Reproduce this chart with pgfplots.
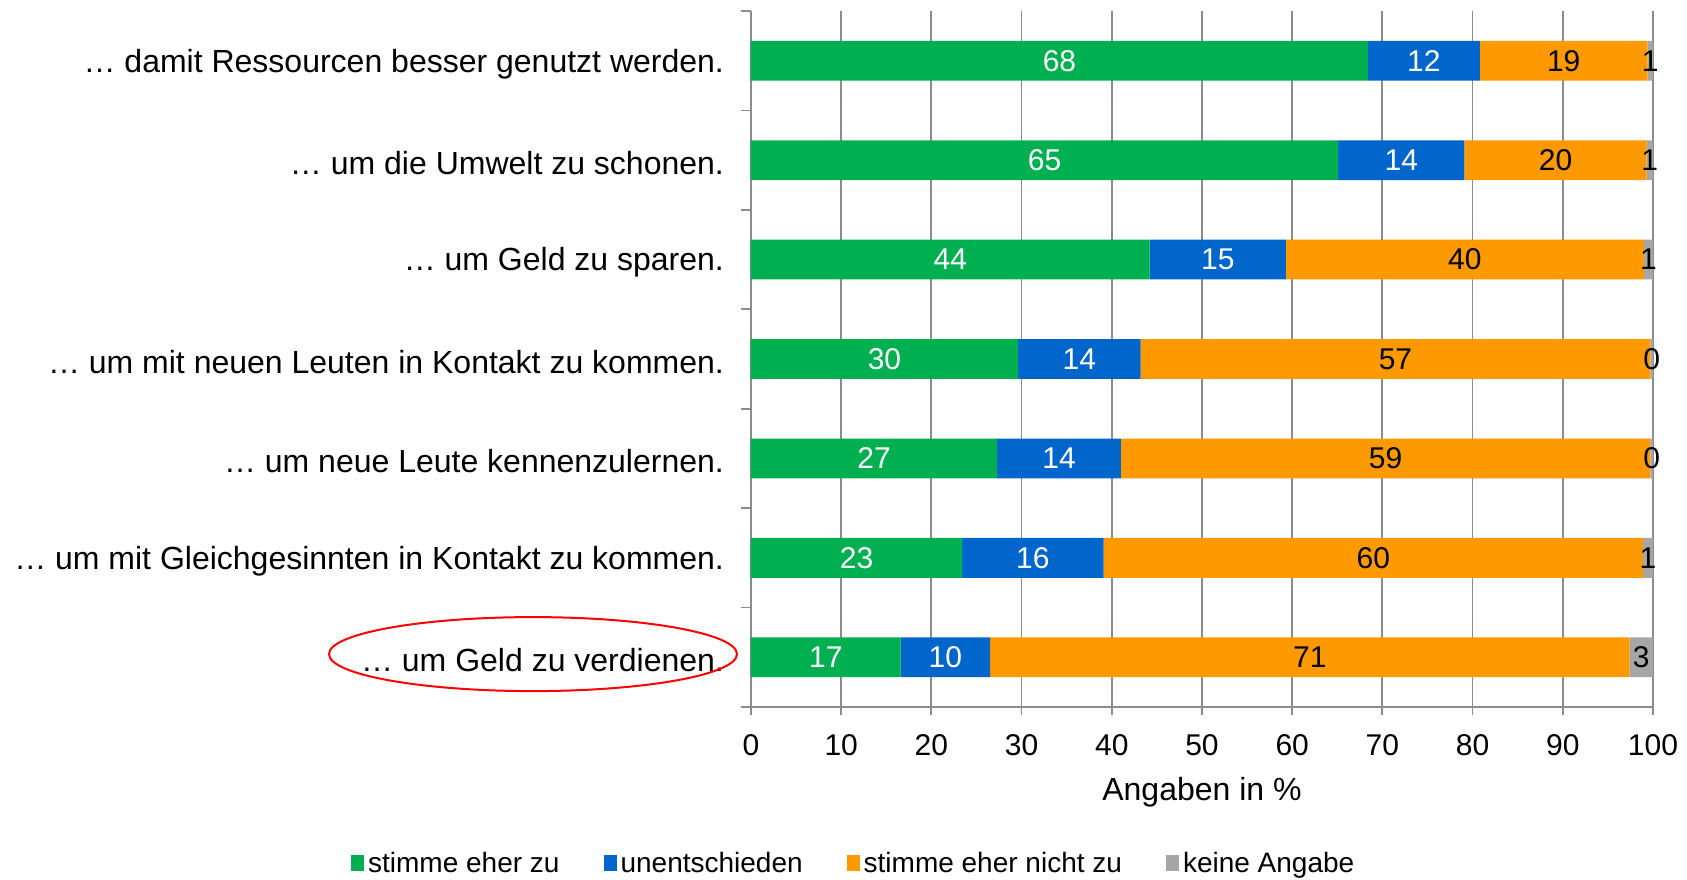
\documentclass[border=0pt]{standalone}
\usepackage{fontspec}
\setmainfont{Liberation Sans}
\usepackage{pgfplots}
\usepackage{pgfplotstable}
\pgfplotsset{compat=1.18}

\definecolor{czu}{HTML}{00B050}
\definecolor{cun}{HTML}{0066CC}
\definecolor{cnicht}{HTML}{FF9900}
\definecolor{ckeine}{HTML}{A6A6A6}
\definecolor{caxis}{HTML}{8C8C8C}

% Angaben in %, Reihen von oben nach unten
\pgfplotstableread{
idx zu   un   nicht keine
0   68.4 12.4 18.6  0.6
1   65.1 14.0 20.2  0.7
2   44.2 15.1 39.7  1.0
3   29.6 13.6 56.5  0.3
4   27.3 13.7 58.7  0.3
5   23.4 15.7 59.8  1.1
6   16.6  9.9 70.9  2.6
}\data

\begin{document}
\begin{tikzpicture}
\begin{axis}[
    scale only axis,
    width=451pt, height=348pt,
    xbar stacked, bar width=0.4,
    xmin=0, xmax=100, ymin=-0.5, ymax=6.5,
    y dir=reverse,
    axis x line*=bottom, axis y line*=left,
    axis line style={draw=caxis, line width=0.9pt},
    tick align=outside,
    xtick={0,10,...,100},
    major x tick style={draw=caxis, line width=0.9pt},
    major tick length=4pt,
    xmajorgrids,
    grid style={draw=caxis, line width=0.9pt},
    ytick={0,...,6},
    major y tick style={draw=none},
    minor ytick={-0.5,0.5,...,6.5},
    minor y tick style={draw=caxis, line width=0.9pt},
    minor tick length=5pt,
    yticklabels={
        … damit Ressourcen besser genutzt werden.,
        … um die Umwelt zu schonen.,
        … um Geld zu sparen.,
        … um mit neuen Leuten in Kontakt zu kommen.,
        … um neue Leute kennenzulernen.,
        … um mit Gleichgesinnten in Kontakt zu kommen.,
        … um Geld zu verdienen.},
    yticklabel style={font=\fontsize{16}{18}\selectfont, xshift=-6pt, yshift=-1.5pt},
    xticklabel style={font=\fontsize{15}{18}\selectfont, yshift=-6pt},
    /pgf/number format/assume math mode=true,
    xlabel={Angaben in \%},
    xlabel style={font=\fontsize{16}{18}\selectfont, yshift=-4pt},
    point meta=explicit,
    nodes near coords={\pgfmathprintnumber[fixed,precision=0]{\pgfplotspointmeta}},
    every node near coord/.append style={anchor=center,
        font=\fontsize{15}{18}\selectfont},
    legend style={at={(0.115,-0.196)}, anchor=north, draw=none,
        font=\fontsize{14}{16}\selectfont, legend columns=4,
        /tikz/every even column/.append style={column sep=20pt}},
    legend image code/.code={\fill[#1,draw=none] (0pt,-4pt) rectangle (6.5pt,4pt);},
    clip=false,
]
\addplot[fill=czu, draw=none, every node near coord/.append style={text=white}]
    table[x=zu, y=idx, meta=zu] {\data};
\addplot[fill=cun, draw=none, every node near coord/.append style={text=white}]
    table[x=un, y=idx, meta=un] {\data};
\addplot[fill=cnicht, draw=none, every node near coord/.append style={text=black}]
    table[x=nicht, y=idx, meta=nicht] {\data};
\addplot[fill=ckeine, draw=none, every node near coord/.append style={text=black}]
    table[x=keine, y=idx, meta=keine] {\data};
\legend{stimme eher zu, unentschieden, stimme eher nicht zu, keine Angabe}

\draw[red, line width=1pt] ([xshift=-109pt, yshift=1.6pt]axis cs:0,6)
    ellipse [x radius=102pt, y radius=18.5pt];
\end{axis}
\pgfresetboundingbox
\path (-375.5pt,-86pt) rectangle ++(843.5pt,439.5pt);
\end{tikzpicture}
\end{document}
